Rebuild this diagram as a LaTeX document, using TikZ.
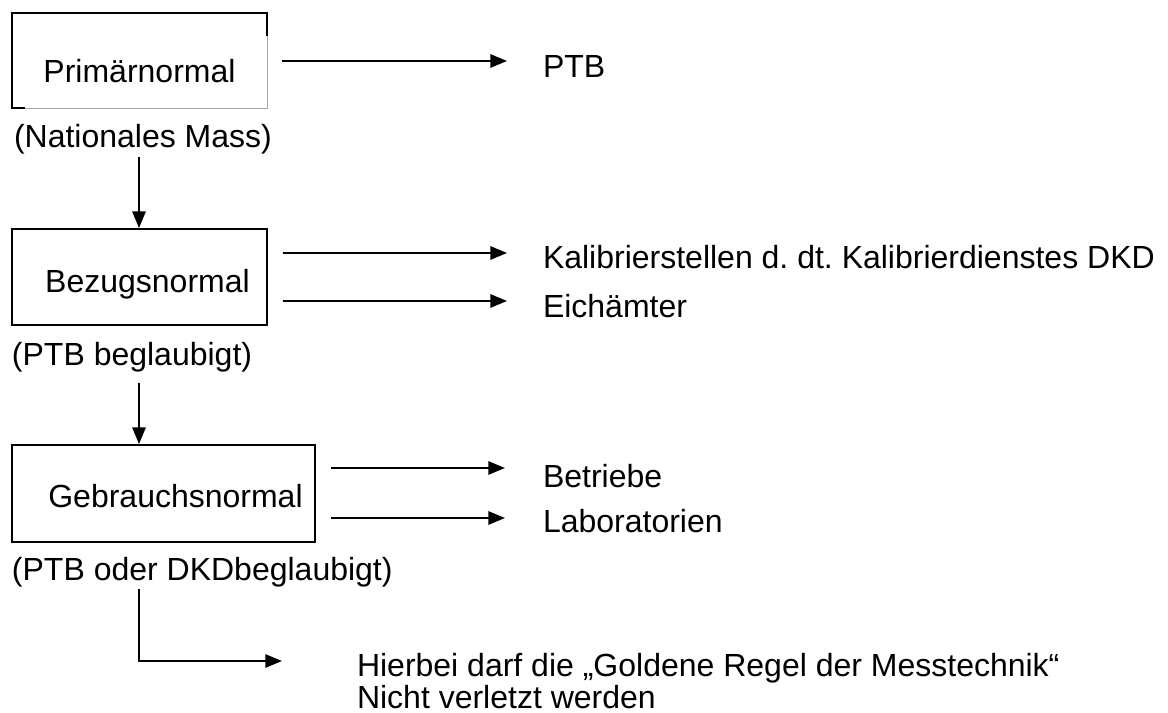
\documentclass[tikz,border=0pt]{standalone}
\usepackage{fontspec}
\setmainfont{Liberation Sans}
\usetikzlibrary{arrows.meta}
\frenchspacing
\begin{document}
\begin{tikzpicture}[x=0.75pt,y=-0.75pt,
  txt/.style={inner sep=0pt,outer sep=0pt,font=\fontsize{24}{29}\selectfont},
  boxnode/.style={rectangle,draw=black,line width=1.4pt,inner sep=0pt},
  conn/.style={line width=1.4pt,-{Triangle[length=12.5pt,width=10pt]}},
  plain/.style={line width=1.4pt}]
\useasboundingbox (0,0) rectangle (1168,713);
% box 1 (partly grey edges as in the reference)
\node[rectangle,inner sep=0pt,minimum width=255*0.75pt,minimum height=95*0.75pt] (b1) at (139.5,60.5) {};
\draw[plain] (b1.south west) ++(13,0) -- (b1.south west) -- (b1.north west) -- (b1.north east) -- ++(0,23);
\draw[gray!70,line width=0.8pt] (b1.north east) ++(0,23) -- (b1.south east) -- ([xshift=13*0.75pt]b1.south west);
\node[txt,anchor=base] (t1) at (139.5,83) {Primärnormal};
\node[txt,anchor=base west] (l1) at (14,148) {(Nationales Mass)};
% box 2
\node[boxnode,minimum width=255*0.75pt,minimum height=96*0.75pt] (b2) at (139.5,277) {};
\node[txt,anchor=base] (t2) at (147.5,292) {Bezugsnormal};
\node[txt,anchor=base west] (l2) at (12,365) {(PTB beglaubigt)};
% box 3
\node[boxnode,minimum width=303*0.75pt,minimum height=97*0.75pt] (b3) at (163.5,493.5) {};
\node[txt,anchor=base] (t3) at (175.5,507) {Gebrauchsnormal};
\node[txt,anchor=base west] (l3) at (12,580) {(PTB oder DKDbeglaubigt)};
% right texts
\node[txt,anchor=base west] (r1) at (543,78) {PTB};
\node[txt,anchor=base west] (r2) at (543,268) {Kalibrierstellen d. dt. Kalibrierdienstes DKD};
\node[txt,anchor=base west] (r3) at (543,317) {Eichämter};
\node[txt,anchor=base west] (r4) at (543,487) {Betriebe};
\node[txt,anchor=base west] (r5) at (543,532) {Laboratorien};
\node[txt,anchor=base west] (h1) at (357,676) {Hierbei darf die „Goldene Regel der Messtechnik“};
\node[txt,anchor=base west] (h2) at (357,708) {Nicht verletzt werden};
% arrow end points
\coordinate (e1) at (507,61);
\coordinate (e2) at (507,253);
\coordinate (e3) at (507,301);
\coordinate (e4) at (505,468);
\coordinate (e5) at (505,518);
\coordinate (e6) at (282,661);
% vertical arrows
\draw[conn] (139,157) -- (b2.north -| 139,0);
\draw[conn] (139,383) -- (b3.north -| 139,0);
\draw[conn] (139,589) -- (139,661) -- (e6);
% right arrows
\draw[conn] ([xshift=15*0.75pt]b1.east |- e1) -- (e1);
\draw[conn] ([xshift=15*0.75pt]b2.east |- e2) -- (e2);
\draw[conn] ([xshift=15*0.75pt]b2.east |- e3) -- (e3);
\draw[conn] ([xshift=15*0.75pt]b3.east |- e4) -- (e4);
\draw[conn] ([xshift=15*0.75pt]b3.east |- e5) -- (e5);
\end{tikzpicture}
\end{document}
